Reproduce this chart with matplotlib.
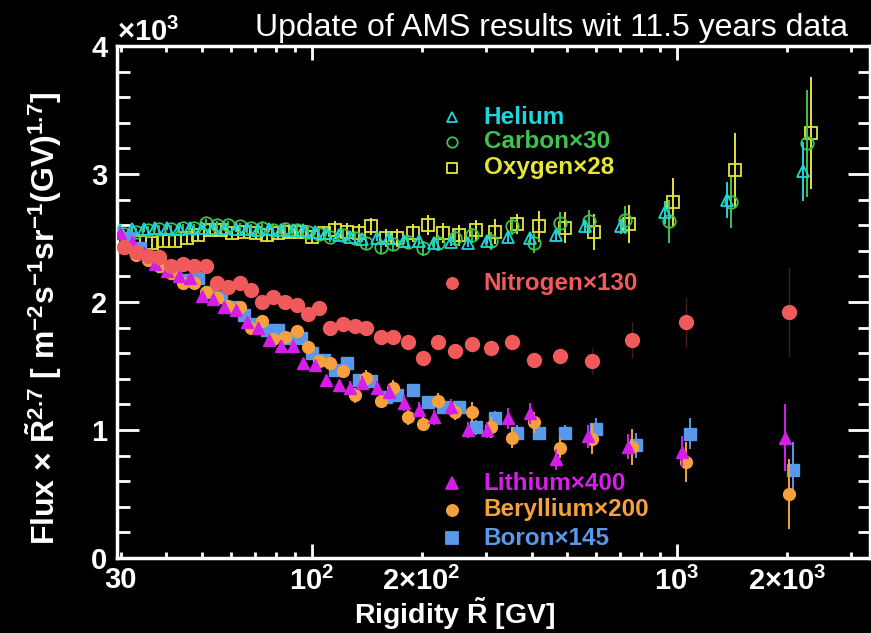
import matplotlib.pyplot as plt
from matplotlib.ticker import FixedLocator, FixedFormatter
import numpy as np

plt.rcParams['font.family'] = ['Liberation Sans', 'DejaVu Sans']
plt.rcParams['font.weight'] = 'bold'
plt.rcParams['mathtext.fontset'] = 'custom'
plt.rcParams['mathtext.rm'] = 'Liberation Sans:bold'
plt.rcParams['mathtext.bf'] = 'Liberation Sans:bold'
plt.rcParams['mathtext.it'] = 'Liberation Sans:bold'
plt.rcParams['mathtext.default'] = 'bf'

# rigidity bins [GV]
rigidity = [30.6, 33.0, 35.6, 38.1, 41.1, 44.3, 47.5, 51.2, 54.9, 58.9,
            63.5, 68.4, 73.3, 78.6, 84.3, 90.9, 97.4, 105, 112.5, 121.5,
            131, 141, 155, 167, 184, 202, 222, 247, 275, 310,
            354, 407, 479, 586, 753, 1059, 2026]
rigidity_hco = [30.6, 33.0, 35.6, 38.1, 41.1, 44.3, 47.5, 51.2, 54.9, 58.9,
                63.5, 68.4, 73.3, 78.6, 84.3, 90.9, 97.4, 105, 112.5, 121.5,
                131, 141, 155, 167, 184, 202, 222, 247, 275, 310,
                354, 407, 479, 576, 721, 951, 1406, 2271]

# flux x R^2.7 (x10^3), scaled
helium = [2.56, 2.57, 2.57, 2.58, 2.58, 2.57, 2.58, 2.58, 2.58, 2.58,
          2.57, 2.57, 2.56, 2.57, 2.56, 2.56, 2.56, 2.55, 2.54, 2.52,
          2.51, 2.49, 2.50, 2.50, 2.48, 2.48, 2.46, 2.47, 2.46, 2.48,
          2.51, 2.50, 2.52, 2.59, 2.59, 2.70, 2.80, 3.02]
helium_err = [0.02, 0.02, 0.02, 0.02, 0.02, 0.02, 0.02, 0.02, 0.02, 0.02,
              0.02, 0.02, 0.02, 0.02, 0.02, 0.02, 0.02, 0.02, 0.02, 0.02,
              0.02, 0.02, 0.02, 0.03, 0.03, 0.03, 0.03, 0.03, 0.03, 0.03,
              0.04, 0.04, 0.04, 0.05, 0.06, 0.09, 0.14, 0.23]
carbon = [2.53, 2.55, 2.56, 2.57, 2.57, 2.58, 2.58, 2.62, 2.60, 2.60,
          2.59, 2.58, 2.58, 2.56, 2.57, 2.56, 2.55, 2.53, 2.51, 2.52,
          2.50, 2.46, 2.43, 2.45, 2.47, 2.42, 2.46, 2.50, 2.52, 2.48,
          2.59, 2.46, 2.62, 2.63, 2.64, 2.63, 2.78, 3.24]
carbon_err = [0.03, 0.03, 0.03, 0.03, 0.03, 0.03, 0.03, 0.03, 0.03, 0.03,
              0.03, 0.03, 0.04, 0.04, 0.04, 0.04, 0.04, 0.04, 0.04, 0.05,
              0.05, 0.05, 0.05, 0.05, 0.05, 0.06, 0.06, 0.06, 0.06, 0.07,
              0.07, 0.08, 0.08, 0.09, 0.11, 0.17, 0.20, 0.42]
oxygen = [2.45, 2.47, 2.46, 2.48, 2.48, 2.50, 2.52, 2.56, 2.56, 2.54,
          2.55, 2.54, 2.52, 2.54, 2.55, 2.55, 2.51, 2.54, 2.56, 2.55,
          2.54, 2.59, 2.50, 2.50, 2.54, 2.60, 2.54, 2.52, 2.56, 2.55,
          2.61, 2.59, 2.58, 2.55, 2.61, 2.78, 3.03, 3.32]
oxygen_err = [0.04, 0.04, 0.04, 0.04, 0.04, 0.04, 0.04, 0.04, 0.04, 0.04,
              0.04, 0.05, 0.05, 0.05, 0.05, 0.05, 0.05, 0.05, 0.07, 0.07,
              0.07, 0.07, 0.07, 0.07, 0.07, 0.08, 0.08, 0.08, 0.08, 0.10,
              0.08, 0.12, 0.12, 0.14, 0.15, 0.19, 0.29, 0.44]
nitrogen = [2.43, 2.39, 2.36, 2.35, 2.28, 2.30, 2.28, 2.28, 2.15, 2.12,
            2.15, 2.09, 2.00, 2.04, 2.00, 1.98, 1.91, 1.95, 1.80, 1.83,
            1.81, 1.80, 1.73, 1.73, 1.69, 1.56, 1.69, 1.62, 1.67, 1.64,
            1.69, 1.55, 1.58, 1.54, 1.70, 1.84, 1.92]
nitrogen_err = [0.02, 0.02, 0.02, 0.02, 0.02, 0.02, 0.02, 0.02, 0.02, 0.02,
                0.03, 0.03, 0.03, 0.03, 0.03, 0.03, 0.03, 0.03, 0.03, 0.03,
                0.04, 0.04, 0.04, 0.04, 0.04, 0.04, 0.04, 0.04, 0.06, 0.06,
                0.06, 0.06, 0.06, 0.10, 0.14, 0.20, 0.35]
lithium = [2.54, 2.47, 2.38, 2.30, 2.24, 2.20, 2.19, 2.05, 2.02, 1.96,
           1.94, 1.84, 1.80, 1.70, 1.66, 1.66, 1.52, 1.51, 1.39, 1.35,
           1.33, 1.37, 1.33, 1.30, 1.21, 1.16, 1.10, 1.18, 1.00, 1.00,
           1.09, 1.13, 0.77, 0.95, 0.87, 0.83, 0.94]
lithium_err = [0.03, 0.03, 0.03, 0.03, 0.03, 0.03, 0.03, 0.03, 0.03, 0.03,
               0.04, 0.04, 0.04, 0.04, 0.04, 0.04, 0.04, 0.04, 0.04, 0.04,
               0.05, 0.05, 0.05, 0.05, 0.06, 0.06, 0.06, 0.06, 0.06, 0.06,
               0.08, 0.08, 0.08, 0.09, 0.10, 0.12, 0.26]
beryllium = [2.42, 2.37, 2.33, 2.28, 2.23, 2.15, 2.15, 2.08, 2.03, 1.97,
             1.96, 1.80, 1.85, 1.71, 1.73, 1.77, 1.65, 1.54, 1.52, 1.46,
             1.27, 1.41, 1.23, 1.33, 1.10, 1.05, 1.23, 1.14, 1.14, 1.02,
             0.94, 1.06, 0.86, 0.93, 0.87, 0.75, 0.50]
beryllium_err = [0.03, 0.03, 0.03, 0.03, 0.03, 0.03, 0.03, 0.03, 0.03, 0.03,
                 0.04, 0.04, 0.04, 0.04, 0.04, 0.04, 0.04, 0.04, 0.04, 0.04,
                 0.06, 0.06, 0.06, 0.06, 0.06, 0.06, 0.06, 0.06, 0.08, 0.08,
                 0.08, 0.08, 0.08, 0.12, 0.14, 0.16, 0.27]
boron = [2.50, 2.42, 2.35, 2.28, 2.23, 2.17, 2.19, 2.08, 2.04, 1.96,
         1.90, 1.83, 1.78, 1.78, 1.72, 1.72, 1.60, 1.55, 1.47, 1.52,
         1.39, 1.38, 1.26, 1.27, 1.31, 1.22, 1.18, 1.18, 1.02, 1.09,
         0.98, 0.98, 0.98, 1.01, 0.88, 0.97, 0.69]
boron_err = [0.02, 0.02, 0.02, 0.02, 0.02, 0.02, 0.02, 0.02, 0.02, 0.02,
             0.03, 0.03, 0.03, 0.03, 0.03, 0.03, 0.03, 0.03, 0.03, 0.03,
             0.04, 0.04, 0.04, 0.04, 0.04, 0.04, 0.04, 0.04, 0.06, 0.06,
             0.06, 0.06, 0.06, 0.08, 0.10, 0.12, 0.22]

# tick labels
xmajor = [100, 1000]
xmajor_labels = [r'$10^{2}$', r'$10^{3}$']
xminor = [30, 40, 50, 60, 70, 80, 90, 200, 300, 400, 500, 600, 700, 800, 900, 2000, 3000]
xminor_labels = ['30', '', '', '', '', '', '', r'$2{\times}10^{2}$', '', '', '', '', '', '', '',
                 r'$2{\times}10^{3}$', '']

c_he = '#1dd6dc'
c_c = '#3fc24f'
c_o = '#e4e43a'
c_n = '#f05a5a'
c_li = '#d51ee8'
c_be = '#f7a03e'
c_b = '#5a98ea'

fig = plt.figure(figsize=(8.71, 6.33), dpi=100, facecolor='black')
ax = fig.add_axes([117 / 871, 1 - 558 / 633, 753 / 871, 512 / 633])
ax.set_facecolor('black')

R = np.array(rigidity)
Rh = np.array(rigidity_hco)

# open markers: He, C, O
ax.errorbar(Rh * 1.028, oxygen, yerr=oxygen_err, fmt='s', ms=9, mfc='none', mec=c_o,
            mew=1.3, ecolor=c_o, elinewidth=1.4, capsize=0, zorder=3)
ax.errorbar(Rh, carbon, yerr=carbon_err, fmt='o', ms=9, mfc='none', mec=c_c,
            mew=1.3, ecolor=c_c, elinewidth=1.4, capsize=0, zorder=4)
ax.errorbar(Rh * 0.975, helium, yerr=helium_err, fmt='^', ms=9, mfc='none', mec=c_he,
            mew=1.3, ecolor=c_he, elinewidth=1.4, capsize=0, zorder=5)

# filled markers: B, Be, Li, N
ax.errorbar(R * 1.028, boron, yerr=boron_err, fmt='s', ms=8, color=c_b,
            elinewidth=1.4, capsize=0, zorder=6)
ax.errorbar(R, beryllium, yerr=beryllium_err, fmt='o', ms=8.5, color=c_be,
            elinewidth=1.4, capsize=0, zorder=7)
ax.errorbar(R * 0.975, lithium, yerr=lithium_err, fmt='^', ms=8.5, color=c_li,
            elinewidth=1.4, capsize=0, zorder=8)
ax.errorbar(R, nitrogen, yerr=nitrogen_err, fmt='o', ms=10, color=c_n, ecolor='#4a1a1a',
            elinewidth=1.0, capsize=0, zorder=9)

ax.set_xscale('log')
ax.set_xlim(29.3, 3380)
ax.set_ylim(0, 4)

ax.xaxis.set_major_locator(FixedLocator(xmajor))
ax.xaxis.set_major_formatter(FixedFormatter(xmajor_labels))
ax.xaxis.set_minor_locator(FixedLocator(xminor))
ax.xaxis.set_minor_formatter(FixedFormatter(xminor_labels))
ax.set_yticks([0, 1, 2, 3, 4])
ax.set_yticklabels(['0', '1', '2', '3', '4'])
ax.set_yticks(np.arange(0, 4.01, 0.2), minor=True)

for s in ax.spines.values():
    s.set_color('white')
    s.set_linewidth(2.5)

ax.tick_params(axis='both', which='both', direction='in', colors='white',
               top=True, right=True, width=2, labelsize=21)
ax.tick_params(axis='x', which='major', length=10, pad=6)
ax.tick_params(axis='x', which='minor', length=4.5, pad=6)
ax.tick_params(axis='y', which='major', length=16, pad=7)
ax.tick_params(axis='y', which='minor', length=9)

# labels
fig.text(455 / 871, 1 - 624 / 633, r'Rigidity $\tilde{R}$ [GV]', color='white',
         fontsize=20.5, ha='center', va='baseline')
fig.text(44 / 871, 1 - 318 / 633,
         r'Flux $\times$ $\tilde{R}^{2.7}$ [ m$^{-2}$s$^{-1}$sr$^{-1}$(GV)$^{1.7}$]',
         color='white', fontsize=23, rotation=90, ha='center', va='center')
fig.text(117 / 871, 1 - 32 / 633, r'$\times10^{3}$', color='white', fontsize=21,
         ha='left', va='center')
fig.text(848 / 871, 1 - 36 / 633, 'Update of AMS results wit 11.5 years data',
         color='white', fontsize=23, fontweight='normal', ha='right', va='baseline')

# legend entries
legend_items = [
    ('^', c_he, 'none', 'Helium', 0.861),
    ('o', c_c, 'none', 'Carbon×30', 0.8125),
    ('s', c_o, 'none', 'Oxygen×28', 0.762),
    ('o', c_n, c_n, 'Nitrogen×130', 0.537),
    ('^', c_li, c_li, 'Lithium×400', 0.146),
    ('o', c_be, c_be, 'Beryllium×200', 0.094),
    ('s', c_b, c_b, 'Boron×145', 0.039),
]
for mk, col, fill, name, yy in legend_items:
    ax.plot([0.445], [yy], marker=mk, ms=7.5 if fill == 'none' else 8, mfc=fill, mec=col,
            mew=1.3, transform=ax.transAxes, clip_on=False, zorder=10)
    ax.text(0.487, yy, name, color=col, fontsize=17.5, ha='left', va='center',
            transform=ax.transAxes)

fig.savefig('out.png', dpi=100, facecolor='black')
